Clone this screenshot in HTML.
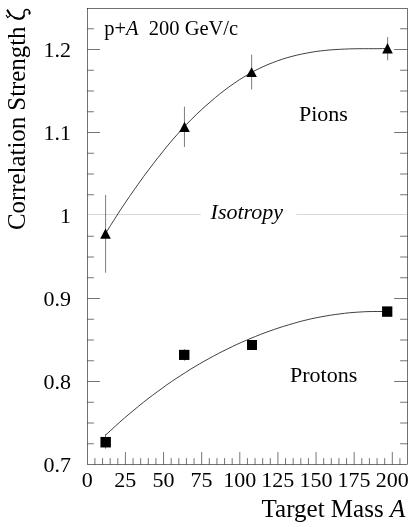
<!DOCTYPE html>
<html><head><meta charset="utf-8"><title>chart</title>
<style>
html,body{margin:0;padding:0;background:#fff;}
body{width:415px;height:527px;overflow:hidden;position:relative;}
svg{position:absolute;left:0;top:0;will-change:transform;}
text{font-family:"Liberation Serif",serif;fill:#000;}
.tk{font-size:22px;}
.ti{font-size:25px;}
</style></head><body>
<svg width="415" height="527" viewBox="0 0 415 527">
<rect x="0" y="0" width="415" height="527" fill="#fff"/>
<g fill="none" stroke="#000" stroke-width="0.55">
<rect x="87.5" y="8.5" width="320.0" height="456.0"/>
<path d="M94.92,464.5 V458.1 M102.55,464.5 V458.1 M110.17,464.5 V458.1 M117.8,464.5 V458.1 M125.42,464.5 V452.1 M133.05,464.5 V458.1 M140.68,464.5 V458.1 M148.3,464.5 V458.1 M155.93,464.5 V458.1 M163.55,464.5 V452.1 M171.18,464.5 V458.1 M178.8,464.5 V458.1 M186.43,464.5 V458.1 M194.05,464.5 V458.1 M201.68,464.5 V452.1 M209.3,464.5 V458.1 M216.93,464.5 V458.1 M224.55,464.5 V458.1 M232.18,464.5 V458.1 M239.8,464.5 V452.1 M247.43,464.5 V458.1 M255.05,464.5 V458.1 M262.68,464.5 V458.1 M270.3,464.5 V458.1 M277.93,464.5 V452.1 M285.55,464.5 V458.1 M293.18,464.5 V458.1 M300.8,464.5 V458.1 M308.43,464.5 V458.1 M316.05,464.5 V452.1 M323.68,464.5 V458.1 M331.3,464.5 V458.1 M338.93,464.5 V458.1 M346.55,464.5 V458.1 M354.18,464.5 V452.1 M361.8,464.5 V458.1 M369.43,464.5 V458.1 M377.05,464.5 V458.1 M384.68,464.5 V458.1 M392.3,464.5 V452.1 M399.93,464.5 V458.1 M87.5,443.75 H93.9 M407.5,443.75 H400.1 M87.5,423.0 H93.9 M407.5,423.0 H400.1 M87.5,402.25 H93.9 M407.5,402.25 H400.1 M87.5,381.5 H99.9 M407.5,381.5 H394.1 M87.5,360.75 H93.9 M407.5,360.75 H400.1 M87.5,340.0 H93.9 M407.5,340.0 H400.1 M87.5,319.25 H93.9 M407.5,319.25 H400.1 M87.5,298.5 H99.9 M407.5,298.5 H394.1 M87.5,277.75 H93.9 M407.5,277.75 H400.1 M87.5,257.0 H93.9 M407.5,257.0 H400.1 M87.5,236.25 H93.9 M407.5,236.25 H400.1 M87.5,194.75 H93.9 M407.5,194.75 H400.1 M87.5,174.0 H93.9 M407.5,174.0 H400.1 M87.5,153.25 H93.9 M407.5,153.25 H400.1 M87.5,132.5 H99.9 M407.5,132.5 H394.1 M87.5,111.75 H93.9 M407.5,111.75 H400.1 M87.5,91.0 H93.9 M407.5,91.0 H400.1 M87.5,70.25 H93.9 M407.5,70.25 H400.1 M87.5,49.5 H99.9 M407.5,49.5 H394.1 M87.5,28.75 H93.9 M407.5,28.75 H400.1"/>
</g>
<path d="M88.0,214.5 H200.8 M296.2,214.5 H407.0" stroke="#d8d8d8" stroke-width="1" fill="none"/>
<g fill="none" stroke="#000" stroke-width="0.75">
<path d="M105.5,233.5 L110.3,225.8 L115.1,218.3 L119.8,210.9 L124.6,203.7 L129.4,196.7 L134.2,189.8 L139.0,183.0 L143.7,176.4 L148.5,170.0 L153.3,163.7 L158.1,157.5 L162.9,151.5 L167.6,145.6 L172.4,140.0 L177.2,134.5 L182.0,129.2 L186.8,124.1 L191.5,119.3 L196.3,114.6 L201.1,110.1 L205.9,105.7 L210.7,101.6 L215.4,97.5 L220.2,93.6 L225.0,89.9 L229.8,86.3 L234.6,83.0 L239.3,79.8 L244.1,76.8 L248.9,74.0 L253.7,71.3 L258.4,68.9 L263.2,66.6 L268.0,64.5 L272.8,62.6 L277.6,60.8 L282.3,59.2 L287.1,57.7 L291.9,56.4 L296.7,55.2 L301.5,54.1 L306.2,53.2 L311.0,52.3 L315.8,51.5 L320.6,50.9 L325.4,50.4 L330.1,49.9 L334.9,49.6 L339.7,49.3 L344.5,49.1 L349.3,48.9 L354.0,48.8 L358.8,48.7 L363.6,48.7 L368.4,48.7 L373.2,48.7 L377.9,48.7 L382.7,48.6 L387.5,48.5"/>
<path d="M105.9,434.8 L110.6,430.5 L115.3,426.2 L119.9,422.0 L124.6,417.9 L129.3,413.9 L134.0,410.0 L138.7,406.1 L143.3,402.4 L148.0,398.7 L152.7,395.2 L157.4,391.7 L162.1,388.3 L166.7,384.9 L171.4,381.7 L176.1,378.5 L180.8,375.5 L185.5,372.5 L190.1,369.5 L194.8,366.7 L199.5,363.9 L204.2,361.2 L208.9,358.6 L213.5,356.1 L218.2,353.6 L222.9,351.2 L227.6,348.9 L232.3,346.6 L236.9,344.4 L241.6,342.3 L246.3,340.3 L251.0,338.3 L255.6,336.4 L260.3,334.5 L265.0,332.7 L269.7,331.0 L274.4,329.4 L279.0,327.8 L283.7,326.3 L288.4,324.9 L293.1,323.5 L297.8,322.2 L302.4,320.9 L307.1,319.8 L311.8,318.7 L316.5,317.7 L321.2,316.8 L325.8,316.0 L330.5,315.2 L335.2,314.5 L339.9,313.9 L344.6,313.3 L349.2,312.8 L353.9,312.4 L358.6,312.1 L363.3,311.8 L368.0,311.6 L372.6,311.5 L377.3,311.5 L382.0,311.5"/>
</g>
<g stroke="#000" stroke-width="0.52" fill="none">
<path d="M105.6,194.9 V272.7 M184.45,106.6 V146.9 M251.65,54.6 V89.5 M387.65,37.1 V60.3"/>
<path d="M105.5,434 V448.7 M184.4,349.1 V360.8"/>
</g>
<g fill="#000">
<polygon points="105.5,228.5 100.20,238.7 110.80,238.7"/>
<polygon points="184.5,121.8 179.20,132 189.80,132"/>
<polygon points="251.6,67.3 246.30,77.0 256.90,77.0"/>
<polygon points="387.5,43.1 382.20,53.4 392.80,53.4"/>
<rect x="100.45" y="436.95" width="10.45" height="10.5"/>
<rect x="179.0" y="349.85" width="10.45" height="10.1"/>
<rect x="247" y="340" width="10" height="10"/>
<rect x="382.05" y="306.4" width="10.3" height="10.4"/>
</g>
<text class="tk" x="71" y="56.9" text-anchor="end">1.2</text>
<text class="tk" x="71" y="139.9" text-anchor="end">1.1</text>
<text class="tk" x="71" y="222.9" text-anchor="end">1</text>
<text class="tk" x="71" y="305.9" text-anchor="end">0.9</text>
<text class="tk" x="71" y="388.9" text-anchor="end">0.8</text>
<text class="tk" x="71" y="471.9" text-anchor="end">0.7</text>
<text class="tk" x="87.2" y="487.2" text-anchor="middle">0</text>
<text class="tk" x="125.3" y="487.2" text-anchor="middle">25</text>
<text class="tk" x="163.4" y="487.2" text-anchor="middle">50</text>
<text class="tk" x="201.6" y="487.2" text-anchor="middle">75</text>
<text class="tk" x="239.7" y="487.2" text-anchor="middle">100</text>
<text class="tk" x="277.8" y="487.2" text-anchor="middle">125</text>
<text class="tk" x="315.9" y="487.2" text-anchor="middle">150</text>
<text class="tk" x="354.1" y="487.2" text-anchor="middle">175</text>
<text class="tk" x="392.2" y="487.2" text-anchor="middle">200</text>
<text x="104.2" y="34.5" font-size="20.5" xml:space="preserve">p+<tspan font-style="italic">A</tspan>  200 GeV/c</text>
<text class="tk" x="299" y="121.2">Pions</text>
<text class="tk" x="290" y="382.3">Protons</text>
<text class="tk" x="210.6" y="218.8" font-style="italic">Isotropy</text>
<text class="ti" x="405.2" y="517.4" text-anchor="end">Target Mass <tspan font-style="italic">A</tspan></text>
<text class="ti" style="font-size:24.85px" transform="translate(24.9,230) rotate(-90)">Correlation Strength</text>
<g fill="none" stroke="#000" stroke-linecap="round" stroke-linejoin="round">
<path d="M7.5,10.4 L10.3,14.8" stroke-width="2.0"/>
<path d="M6.2,15.3 L7.7,17.6 L10.2,15.6" stroke-width="1.1"/>
<path d="M10.3,14.8 C12.5,16.9 15.5,18.4 19.2,18.7 C22.2,18.9 24.2,16.9 24.1,14.6 C24.0,13.0 23.4,11.8 24.8,10.3 C26.0,9.1 28.2,9.3 29.2,10.6 C30.1,11.8 30.2,13.0 29.6,14.0" stroke-width="1.4"/>
<path d="M14.5,17.7 C16,18.4 17.5,18.7 19.2,18.8 C21.5,18.9 23.2,17.8 23.8,16.0" stroke-width="2.1"/>
<ellipse cx="29.4" cy="12.9" rx="1.0" ry="1.7" fill="#000" stroke="none"/>
</g>
</svg>
</body></html>
